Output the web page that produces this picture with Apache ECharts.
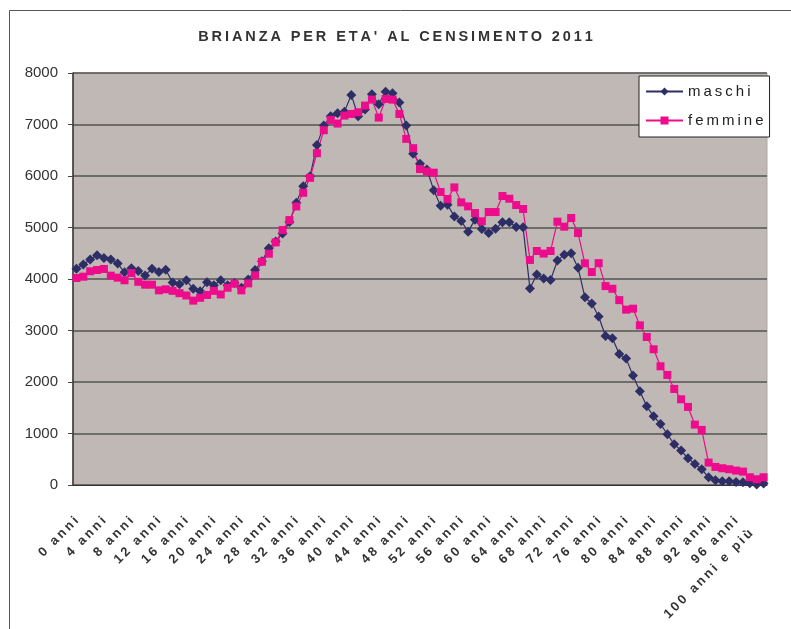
<!DOCTYPE html>
<html>
<head>
<meta charset="utf-8">
<script src="https://cdn.jsdelivr.net/npm/echarts@6/dist/echarts.min.js"></script>
<style>
  html, body {margin: 0; padding: 0; background: #fff;}
  #chart {width: 791px; height: 629px;}
</style>
</head>
<body>
<div id="chart"></div>
<script>
// categorie di età: 0 anni ... 99 anni, 100 anni e più
const eta = [];
for (let i = 0; i < 100; i++) eta.push(i + ' anni');
eta.push('100 anni e più');

// popolazione per età
const maschi = [
  4200, 4280, 4380, 4460, 4410, 4380, 4300, 4130, 4210, 4155,
  4070, 4200, 4135, 4180, 3930, 3900, 3975, 3810, 3760, 3935,
  3880, 3975, 3880, 3920, 3830, 3990, 4175, 4343, 4595, 4730,
  4885, 5105, 5480, 5803, 5997, 6604, 6979, 7160, 7218, 7250,
  7574, 7160, 7289, 7586, 7393, 7638, 7606, 7425, 6979, 6430,
  6240, 6126, 5725, 5420, 5443, 5216, 5126, 4919, 5152, 4971,
  4893, 4977, 5100, 5100, 5010, 5003, 3814, 4086, 4008, 3982,
  4357, 4473, 4499, 4220, 3645, 3525, 3273, 2892, 2850, 2544,
  2454, 2124, 1820, 1528, 1334, 1185, 985, 791, 668, 519,
  409, 306, 150, 92, 73, 73, 60, 53, 34, 8,
  27
];
const femmine = [
  4020, 4045, 4150, 4175, 4195, 4065, 4026, 3975, 4115, 3945,
  3890, 3890, 3780, 3800, 3770, 3725, 3680, 3580, 3635, 3690,
  3770, 3700, 3830, 3910, 3780, 3915, 4072, 4335, 4491, 4711,
  4950, 5144, 5409, 5674, 5964, 6443, 6889, 7089, 7018, 7173,
  7205, 7238, 7367, 7483, 7134, 7496, 7483, 7205, 6721, 6540,
  6135, 6088, 6065, 5690, 5553, 5779, 5488, 5410, 5281, 5120,
  5300, 5300, 5611, 5559, 5436, 5359, 4370, 4544, 4493, 4544,
  5113, 5016, 5184, 4893, 4305, 4135, 4308, 3862, 3810, 3590,
  3405, 3424, 3101, 2874, 2635, 2305, 2137, 1865, 1664, 1516,
  1173, 1069, 435, 351, 325, 306, 280, 260, 150, 112,
  150
];

// testo spaziato come nell'originale
const spaziato = s => s.split('').join('\u2009');

const myChart = echarts.init(document.getElementById('chart'));
myChart.setOption({
  animation: false,
  textStyle: {fontFamily: 'Liberation Sans, Arial, sans-serif'},
  title: {
    text: spaziato("BRIANZA PER ETA' AL CENSIMENTO 2011"),
    left: 'center',
    top: 24,
    textStyle: {fontSize: 14.5, fontWeight: 'bold', color: '#333'}
  },
  graphic: [{
    type: 'rect',
    shape: {x: 9.5, y: 10.5, width: 800, height: 640},
    style: {fill: 'none', stroke: '#555', lineWidth: 1},
    silent: true
  }],
  legend: {
    orient: 'vertical',
    left: 639,
    top: 76,
    padding: [8, 6, 9, 6],
    itemGap: 14,
    itemWidth: 37,
    itemHeight: 10,
    backgroundColor: '#fff',
    borderColor: '#222',
    borderWidth: 1,
    formatter: name => spaziato(name),
    textStyle: {fontSize: 15, color: '#222'},
    data: ['maschi', 'femmine']
  },
  grid: {
    left: 73,
    right: 24,
    top: 73,
    bottom: 144,
    show: true,
    backgroundColor: '#c0b8b5',
    borderColor: '#aaa',
    borderWidth: 1
  },
  xAxis: {
    type: 'category',
    data: eta,
    boundaryGap: true,
    axisLine: {lineStyle: {color: '#333', width: 1}},
    axisTick: {interval: 0, length: 4, lineStyle: {color: '#444'}},
    axisLabel: {
      interval: 3,
      rotate: 45,
      margin: 34,
      fontSize: 13,
      fontWeight: 'bold',
      color: '#333',
      formatter: (v, i) => i === 100 ? '{u|' + spaziato(v) + '}' : spaziato(v),
      rich: {u: {fontSize: 13, fontWeight: 'bold', color: '#333', padding: [0, 18, 0, 0]}}
    }
  },
  yAxis: {
    type: 'value',
    min: 0,
    max: 8000,
    interval: 1000,
    axisLine: {show: true, lineStyle: {color: '#333', width: 1.5}},
    axisTick: {show: true, length: 5, lineStyle: {color: '#444'}},
    axisLabel: {fontSize: 15, color: '#333', margin: 15, formatter: v => String(v)},
    splitLine: {lineStyle: {color: '#555', width: 1.5}}
  },
  series: [
    {
      name: 'maschi',
      type: 'line',
      data: maschi,
      symbol: 'diamond',
      symbolSize: 10,
      showAllSymbol: true,
      lineStyle: {color: '#2e2e66', width: 1.2},
      itemStyle: {color: '#2e2e66'}
    },
    {
      name: 'femmine',
      type: 'line',
      data: femmine,
      symbol: 'rect',
      symbolSize: 8,
      showAllSymbol: true,
      lineStyle: {color: '#ec0c8c', width: 1.2},
      itemStyle: {color: '#ec0c8c'}
    }
  ]
});
</script>
</body>
</html>
